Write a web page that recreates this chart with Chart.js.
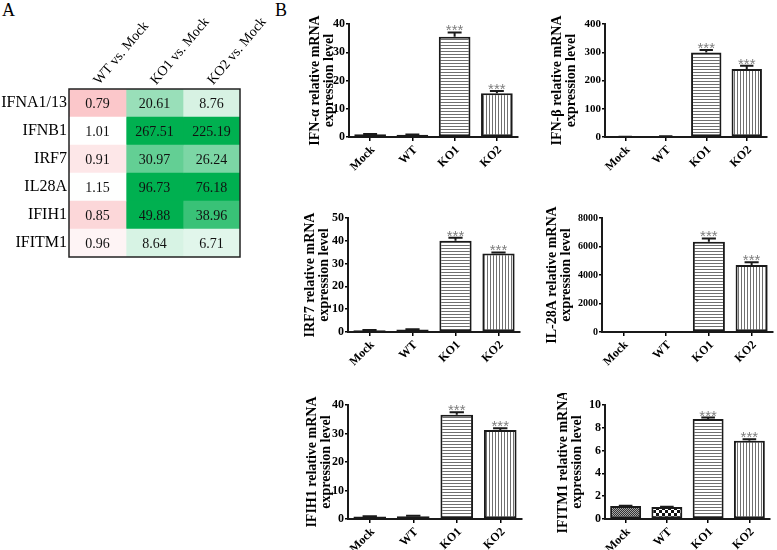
<!DOCTYPE html>
<html>
<head>
<meta charset="utf-8">
<script src="https://cdn.jsdelivr.net/npm/chart.js@4.4.1/dist/chart.umd.min.js"></script>
<style>
  body { margin: 0; background: #fff; }
  #wrap { position: relative; width: 777px; height: 550px; overflow: hidden; }
  #wrap canvas { position: absolute; }
  .panel { position: absolute; font: 18px 'Liberation Serif', 'Times New Roman', serif; color: #000; }
</style>
</head>
<body>
<div id="wrap">
  <div class="panel" style="left:2px;top:0px;">A</div>
  <div class="panel" style="left:275px;top:0px;">B</div>
  <canvas id="heat" width="290" height="270" style="left:0;top:0;"></canvas>
  <canvas id="c1"></canvas>
  <canvas id="c2"></canvas>
  <canvas id="c3"></canvas>
  <canvas id="c4"></canvas>
  <canvas id="c5"></canvas>
  <canvas id="c6"></canvas>
</div>
<script>
// ---- heatmap (fold change vs. Mock) ----
const heatGenes = ['IFNA1/13', 'IFNB1', 'IRF7', 'IL28A', 'IFIH1', 'IFITM1'];
const heatColumns = ['WT vs. Mock', 'KO1 vs. Mock', 'KO2 vs. Mock'];
const wtVsMock = [0.79, 1.01, 0.91, 1.15, 0.85, 0.96];
const ko1VsMock = [20.61, 267.51, 30.97, 96.73, 49.88, 8.64];
const ko2VsMock = [8.76, 225.19, 26.24, 76.18, 38.96, 6.71];

// ---- qPCR bars ----
const groups = ['Mock', 'WT', 'KO1', 'KO2'];
const sigMarks = ['', '', '***', '***'];
const ifnaMean = [1.0, 0.8, 35.5, 15.5];
const ifnaErr = [0.1, 0.1, 1.5, 0.8];
const ifnbMean = [1, 2, 299, 241];
const ifnbErr = [0.2, 0.3, 9, 11];
const irf7Mean = [0.8, 1.1, 40.0, 34.4];
const irf7Err = [0.05, 0.1, 1.3, 0.5];
const il28aMean = [1, 1, 6340, 4700];
const il28aErr = [0.1, 0.1, 230, 190];
const ifih1Mean = [0.9, 1.0, 36.6, 31.2];
const ifih1Err = [0.05, 0.1, 0.9, 0.6];
const ifitm1Mean = [1.15, 1.05, 8.77, 6.87];
const ifitm1Err = [0.02, 0.02, 0.13, 0.12];

const serif = "'Liberation Serif', 'Times New Roman', serif";
Chart.defaults.font.family = serif;
Chart.defaults.color = '#000';

function mix(a, b, t) {
    return 'rgb(' + a.map((v, i) => Math.round(v + (b[i] - v) * t)).join(',') + ')';
}
function heatColor(v) {
    if (v < 1) {
        return mix([255, 255, 255], [251, 199, 202], Math.min(1, (1 - v) / 0.21));
    }
    return mix([255, 255, 255], [0, 176, 80], Math.min(1, (v - 1) / 49));
}

const heatPlugin = {
    id: 'heatText',
    afterDatasetsDraw(chart) {
        const c = chart.ctx;
        const a = chart.chartArea;
        c.save();
        c.font = '14px ' + serif;
        c.fillStyle = '#111';
        c.textAlign = 'center';
        c.textBaseline = 'middle';
        chart.data.datasets.forEach((ds, j) => {
            chart.getDatasetMeta(j).data.forEach((bar, i) => {
                const p = bar.getCenterPoint();
                c.fillText(ds.values[i].toFixed(2), p.x, p.y + 1);
            });
        });
        c.strokeStyle = '#222';
        c.lineWidth = 1.5;
        c.strokeRect(a.left, a.top, a.right - a.left, a.bottom - a.top);
        // column headers, slanted like the original
        const top = chart.scales.x2;
        top.getLabels().forEach((txt, i) => {
            c.save();
            c.translate(top.getPixelForTick(i) - 1, a.top - 6);
            c.rotate(-50 * Math.PI / 180);
            c.textAlign = 'left';
            c.textBaseline = 'middle';
            c.fillStyle = '#000';
            c.fillText(txt, 0, 0);
            c.restore();
        });
        c.restore();
    }
};

const heatCols = [wtVsMock, ko1VsMock, ko2VsMock];
new Chart(document.getElementById('heat'), {
    type: 'bar',
    data: {
        labels: heatGenes,
        datasets: heatColumns.map((name, j) => ({
            label: name,
            data: heatGenes.map(() => 1),
            values: heatCols[j],
            backgroundColor: heatCols[j].map(heatColor),
            borderWidth: 0,
            barPercentage: 1,
            categoryPercentage: 1
        }))
    },
    options: {
        indexAxis: 'y',
        responsive: false,
        animation: false,
        layout: { padding: { top: 0, right: 50, bottom: 13, left: 0 } },
        plugins: { legend: { display: false }, tooltip: { enabled: false } },
        scales: {
            x: { stacked: true, min: 0, max: 3, display: false },
            y: {
                stacked: true,
                grid: { display: false, drawTicks: false },
                border: { display: false },
                ticks: { font: { size: 16 }, color: '#000', padding: 2 },
                afterFit(s) { s.width = 69; }
            },
            x2: {
                type: 'category',
                labels: heatColumns,
                position: 'top',
                offset: true,
                grid: { display: false, drawTicks: false },
                border: { display: false },
                ticks: { display: false },
                afterFit(s) { s.height = 89; }
            }
        }
    },
    plugins: [heatPlugin]
});

// bar fills
function makePattern(kind) {
    const p = document.createElement('canvas');
    const g = p.getContext('2d');
    if (kind == 'fine') {
        p.width = 2; p.height = 2;
        g.fillStyle = '#a8a8a8'; g.fillRect(0, 0, 2, 2);
        g.fillStyle = '#333'; g.fillRect(0, 0, 1, 1); g.fillRect(1, 1, 1, 1);
    } else if (kind == 'checker') {
        p.width = 6; p.height = 6;
        g.fillStyle = '#fff'; g.fillRect(0, 0, 6, 6);
        g.fillStyle = '#111'; g.fillRect(0, 0, 3, 3); g.fillRect(3, 3, 3, 3);
    } else if (kind == 'horiz') {
        p.width = 4; p.height = 3;
        g.fillStyle = '#fff'; g.fillRect(0, 0, 4, 3);
        g.fillStyle = '#707070'; g.fillRect(0, 0, 4, 1);
    } else {
        p.width = 3; p.height = 4;
        g.fillStyle = '#fff'; g.fillRect(0, 0, 3, 4);
        g.fillStyle = '#707070'; g.fillRect(0, 0, 1, 4);
    }
    return g.createPattern(p, 'repeat');
}
const fills = [makePattern('fine'), makePattern('checker'), makePattern('horiz'), makePattern('vert')];

const errorBarPlugin = {
    id: 'errorBars',
    afterDatasetsDraw(chart) {
        const c = chart.ctx;
        const ds = chart.data.datasets[0];
        const yScale = chart.scales.y;
        c.save();
        chart.getDatasetMeta(0).data.forEach((bar, i) => {
            const top = yScale.getPixelForValue(ds.data[i] + ds.errors[i]);
            const half = bar.width * 0.22;
            c.strokeStyle = '#1a1a1a';
            c.lineWidth = 2;
            c.beginPath();
            c.moveTo(bar.x, bar.y);
            c.lineTo(bar.x, top);
            c.moveTo(bar.x - half, top);
            c.lineTo(bar.x + half, top);
            c.stroke();
            if (ds.marks[i]) {
                c.fillStyle = '#7d7d7d';
                c.font = '15px "Liberation Sans", Arial, sans-serif';
                c.textAlign = 'center';
                c.textBaseline = 'alphabetic';
                c.fillText(ds.marks[i], bar.x, top + 3);
            }
        });
        c.restore();
    }
};

// plot-area positions on the page
const layouts = {
    c1: { left: 349, right: 518, top: 24, bottom: 137, titleX: 315, tickSize: 12 },
    c2: { left: 605, right: 767, top: 24, bottom: 137, titleX: 557, tickSize: 11 },
    c3: { left: 348, right: 520, top: 218, bottom: 332, titleX: 310, tickSize: 12 },
    c4: { left: 602, right: 773, top: 218, bottom: 332, titleX: 552, tickSize: 10 },
    c5: { left: 348, right: 522, top: 405, bottom: 519, titleX: 312, tickSize: 12 },
    c6: { left: 605, right: 770, top: 405, bottom: 519, titleX: 563, tickSize: 12 }
};

function drawBarChart(id, means, errs, yMax, yStep, titleLines) {
    const L = layouts[id];
    const el = document.getElementById(id);
    const cLeft = Math.round(L.titleX - 7 - 2);
    const cTop = L.top - 12;
    const xAxisH = 55;
    el.width = L.right + 4 - cLeft;
    el.height = L.bottom - cTop + xAxisH;
    el.style.left = cLeft + 'px';
    el.style.top = cTop + 'px';
    new Chart(el, {
        type: 'bar',
        data: {
            labels: groups,
            datasets: [{
                data: means,
                errors: errs,
                marks: sigMarks,
                backgroundColor: fills,
                borderColor: '#1a1a1a',
                borderWidth: 2,
                borderSkipped: false,
                barPercentage: 0.75,
                categoryPercentage: 1
            }]
        },
        options: {
            responsive: false,
            animation: false,
            layout: { padding: { top: 12, right: 4, bottom: 0, left: 0 } },
            plugins: { legend: { display: false }, tooltip: { enabled: false } },
            scales: {
                x: {
                    grid: { display: true, drawOnChartArea: false, offset: false, tickLength: 4, color: '#000', lineWidth: 1.5 },
                    border: { color: '#1a1a1a', width: 2 },
                    ticks: { font: { size: 12, weight: 'bold' }, color: '#000', padding: 2, labelOffset: 3, minRotation: 45, maxRotation: 45 },
                    afterFit(s) { s.height = xAxisH; }
                },
                y: {
                    min: 0,
                    max: yMax,
                    grid: { display: true, drawOnChartArea: false, tickLength: 3, color: '#000', lineWidth: 1.5 },
                    border: { color: '#1a1a1a', width: 2 },
                    ticks: { stepSize: yStep, font: { size: L.tickSize, weight: 'bold' }, color: '#000', padding: 1, callback: (v) => String(v) },
                    title: {
                        display: true,
                        text: titleLines,
                        font: { size: 14, weight: 'bold', lineHeight: 1 },
                        color: '#000',
                        padding: { top: 2, bottom: 0 }
                    },
                    afterFit(s) { s.width = L.left - cLeft; }
                }
            }
        },
        plugins: [errorBarPlugin]
    });
}

drawBarChart('c1', ifnaMean, ifnaErr, 40, 10, ['IFN-\u03b1 relative mRNA', 'expression level']);
drawBarChart('c2', ifnbMean, ifnbErr, 400, 100, ['IFN-\u03b2 relative mRNA', 'expression level']);
drawBarChart('c3', irf7Mean, irf7Err, 50, 10, ['IRF7 relative mRNA', 'expression level']);
drawBarChart('c4', il28aMean, il28aErr, 8000, 2000, ['IL-28A relative mRNA', 'expression level']);
drawBarChart('c5', ifih1Mean, ifih1Err, 40, 10, ['IFIH1 relative mRNA', 'expression level']);
drawBarChart('c6', ifitm1Mean, ifitm1Err, 10, 2, ['IFITM1 relative mRNA', 'expression level']);
</script>
</body>
</html>
